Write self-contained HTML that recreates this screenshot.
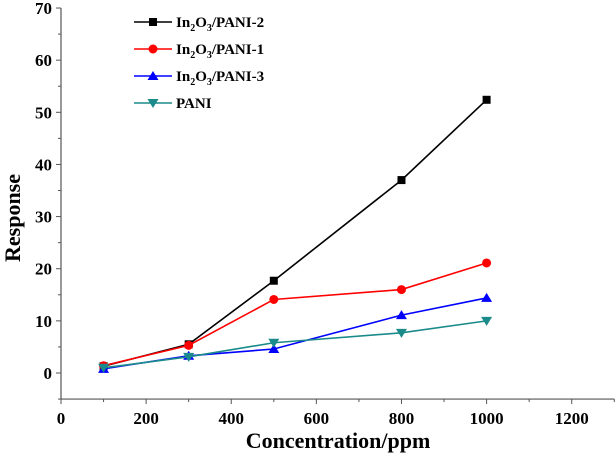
<!DOCTYPE html>
<html><head><meta charset="utf-8"><style>
body{margin:0;background:#fff}
svg text{font-family:"Liberation Serif",serif;font-weight:bold;fill:#000}
</style></head><body>
<svg id="c" width="615" height="456" xmlns="http://www.w3.org/2000/svg"></svg>
<script>
const xValues=[100,300,500,800,1000];
const seriesNames=["In2O3/PANI-2","In2O3/PANI-1","In2O3/PANI-3","PANI"];
const s1=[1.3,5.5,17.7,37.0,52.4];
const s2=[1.4,5.3,14.1,16.0,21.1];
const s3=[0.8,3.3,4.6,11.1,14.4];
const s4=[1.0,3.1,5.8,7.7,10.0];
const xTicks=[0,200,400,600,800,1000,1200];
const yTicks=[0,10,20,30,40,50,60,70];
const svg=document.getElementById('c');const NS="http://www.w3.org/2000/svg";
function X(v){return 61+v*0.4256;}
function Y(v){return 373-v*5.214;}
function mk(t,a,p){const e=document.createElementNS(NS,t);for(const k in a)e.setAttribute(k,a[k]);(p||svg).appendChild(e);return e;}
const ax=mk('g',{});


mk('line',{x1:X(0),y1:Y(-5),x2:X(1300),y2:Y(-5),stroke:'#555','stroke-width':1.2},ax);
mk('line',{x1:X(0),y1:Y(-5),x2:X(0),y2:Y(70),stroke:'#555','stroke-width':1.2},ax);
for(let v=0;v<=1300;v+=100){mk('line',{x1:X(v),x2:X(v),y1:Y(-5),y2:Y(-5)+(v%200==0?5:3),stroke:'#555'},ax);}
for(let v=-5;v<=70;v+=5){mk('line',{x1:X(0),x2:X(0)-(v%10==0?5:3),y1:Y(v),y2:Y(v),stroke:'#555'},ax);}
xTicks.forEach(v=>{const t=mk('text',{x:X(v),y:424,'text-anchor':'middle','font-size':17},ax);t.textContent=v;
});
yTicks.forEach(v=>{const t=mk('text',{x:52,y:Y(v)+6,'text-anchor':'end','font-size':17},ax);t.textContent=v;
});
const xt=mk('text',{x:338,y:448,'text-anchor':'middle','font-size':22});xt.textContent='Concentration/ppm';

const yt=mk('text',{x:0,y:0,'text-anchor':'middle','font-size':22,transform:'translate(20,218) rotate(-90)'});yt.textContent='Response';

const colors=['#000','#f00','#00f','#1a8a8a'];const shapes=['sq','ci','tu','td'];
function marker(g,x,y,s,c){
 if(s=='sq')mk('rect',{x:x-4,y:y-4,width:8,height:8,fill:c},g);
 else if(s=='ci')mk('circle',{cx:x,cy:y,r:4.5,fill:c},g);
 else if(s=='tu')mk('polygon',{points:`${x},${y-5} ${x-5.5},${y+4} ${x+5.5},${y+4}`,fill:c},g);
 else mk('polygon',{points:`${x},${y+5} ${x-5.5},${y-4} ${x+5.5},${y-4}`,fill:c},g);}
[s1,s2,s3,s4].forEach((d,i)=>{
 const g=mk('g',{});
 
 
 mk('polyline',{points:d.map((v,j)=>X(xValues[j])+','+Y(v)).join(' '),fill:'none',stroke:colors[i],'stroke-width':1.6},g);
 d.forEach((v,j)=>marker(g,X(xValues[j]),Y(v),shapes[i],colors[i]));
 const ly=22+i*27;
 const lg=mk('g',{});
 
 
 mk('line',{x1:134,x2:172,y1:ly,y2:ly,stroke:colors[i],'stroke-width':1.6},lg);
 marker(lg,153,ly,shapes[i],colors[i]);
 const t=mk('text',{x:176,y:ly+5,'font-size':15},lg);
 if(i<3){t.innerHTML='In<tspan font-size="10" dy="4">2</tspan><tspan dy="-4">O</tspan><tspan font-size="10" dy="4">3</tspan><tspan dy="-4">/PANI-'+['2','1','3'][i]+'</tspan>';}
 else t.textContent='PANI';
});
</script>
</body></html>
